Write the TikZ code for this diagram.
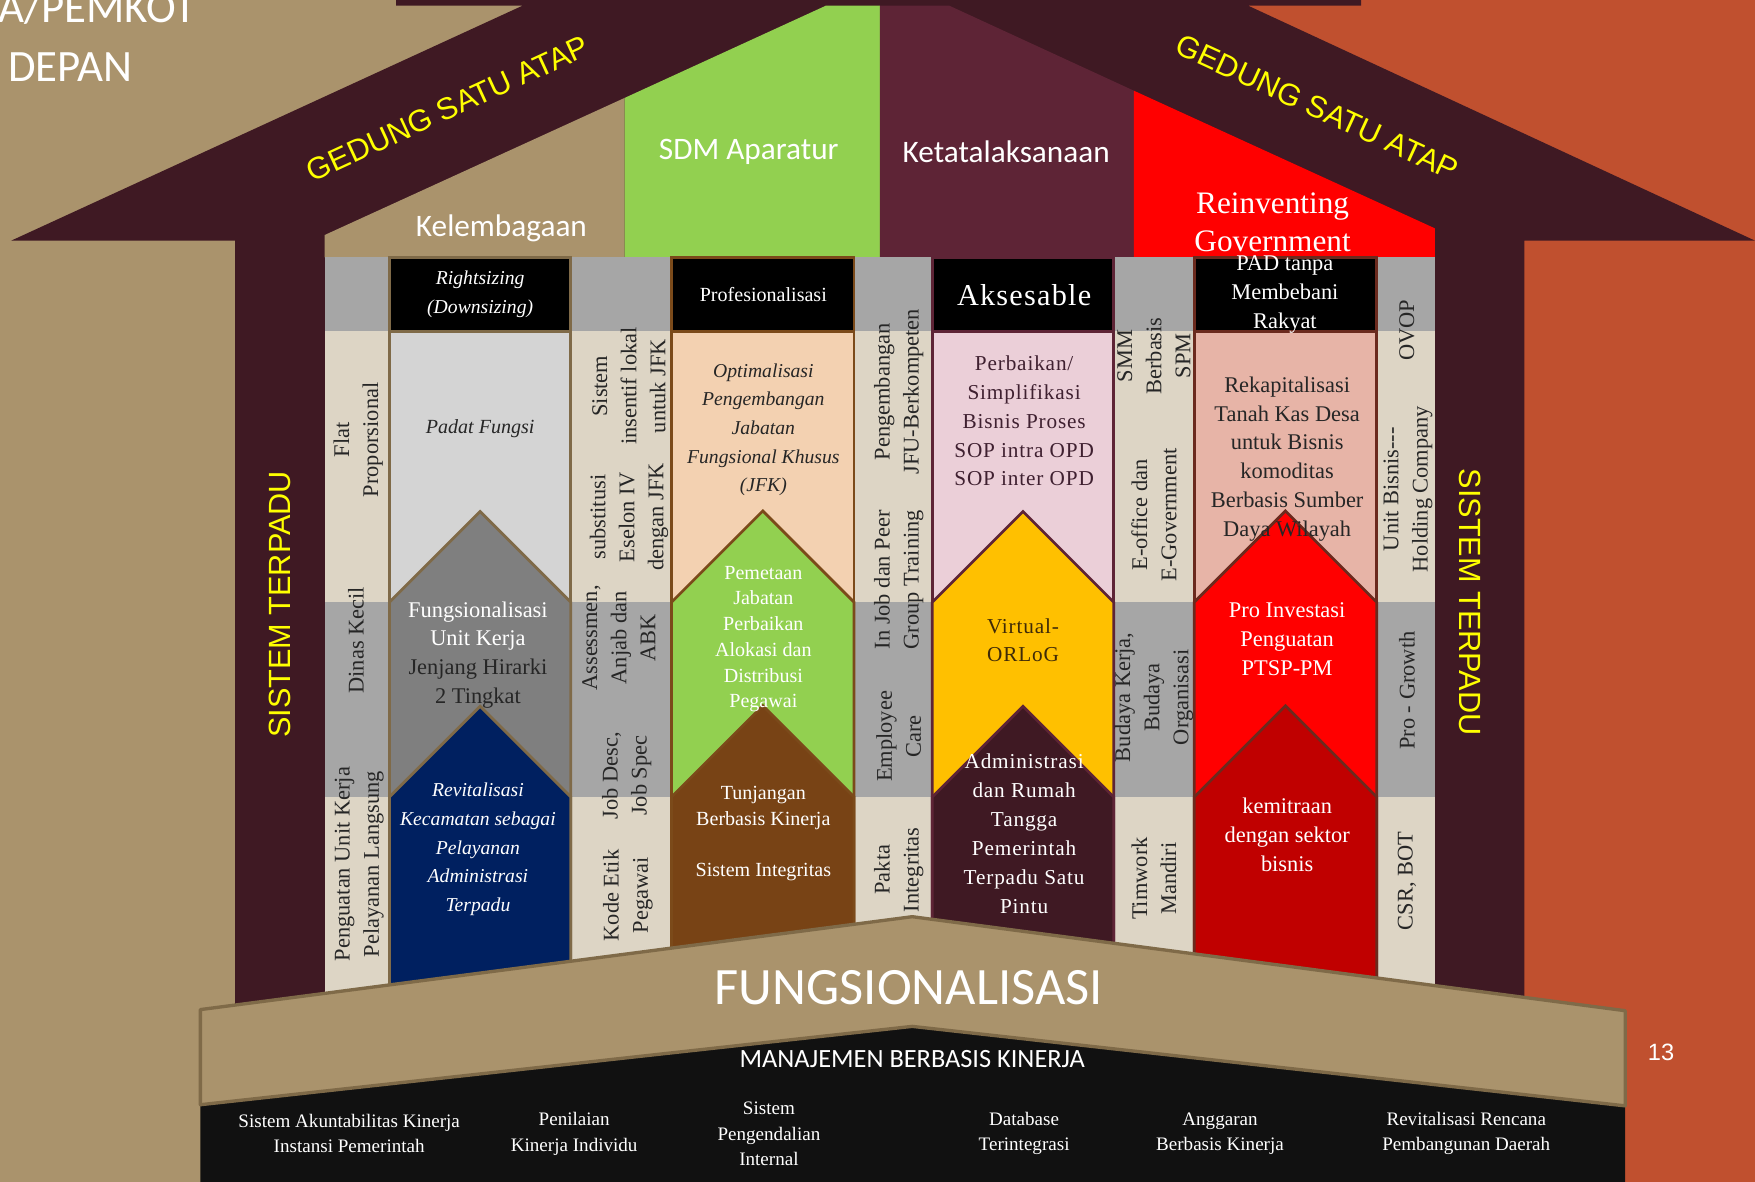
\documentclass[tikz,border=0pt]{standalone}
\usepackage{fontspec}
\setmainfont{Liberation Serif}
\newfontfamily\calibfont{Carlito}
\newfontfamily\arialfont{Liberation Sans}
\usetikzlibrary{calc}
\definecolor{bgtan}{HTML}{AA936C}
\definecolor{bgorange}{HTML}{C0502F}
\definecolor{roofdark}{HTML}{3F1923}
\definecolor{ketmaroon}{HTML}{5E2436}
\definecolor{sdmgreen}{HTML}{92D050}
\definecolor{colbeige}{HTML}{DDD5C5}
\definecolor{colgray}{HTML}{A6A6A6}
\definecolor{banlgray}{HTML}{D4D4D4}
\definecolor{banmgray}{HTML}{7F7F7F}
\definecolor{bannavy}{HTML}{002060}
\definecolor{banpeach}{HTML}{F3D1B1}
\definecolor{banbrown}{HTML}{784315}
\definecolor{banpink}{HTML}{EBCFD8}
\definecolor{bangold}{HTML}{FFC000}
\definecolor{bansalmon}{HTML}{E7B4A7}
\definecolor{banred}{HTML}{FF0000}
\definecolor{bandred}{HTML}{C00000}
\definecolor{bdtan}{HTML}{7F6A48}
\definecolor{bdbrown}{HTML}{7B4A1A}
\definecolor{bdred}{HTML}{6B2A1E}
\definecolor{txtdark}{HTML}{262626}
\definecolor{txtmaroon}{HTML}{3F2030}
\definecolor{txtgold}{HTML}{3F2A08}
\definecolor{basedark}{HTML}{111111}
\definecolor{gedyellow}{HTML}{FFFF00}

\begin{document}
\begin{tikzpicture}[x=0.02cm, y=-0.02cm,
  every node/.style={inner sep=0pt},
  banline/.style={line width=1.4pt, line join=miter},
  coltext/.style={rotate=90, align=center, text=txtdark, font=\fontsize{11.4}{14.8}\selectfont},
  bantext/.style={align=center, font=\fontsize{11.4}{14.6}\selectfont},
  banital/.style={align=center, font=\fontsize{10}{14.6}\selectfont\itshape},
  bthree/.style={align=center, font=\fontsize{10.8}{14.7}\selectfont\addfontfeature{LetterSpace=4}},
  roofsans/.style={text=white, font=\calibfont\fontsize{15.9}{19}\selectfont},
  gedung/.style={text=gedyellow, font=\arialfont\fontsize{15.6}{19}\selectfont},
  basetext/.style={align=center, text=white, font=\fontsize{9.7}{12.8}\selectfont}]

\useasboundingbox (0,0) rectangle (1568,1056);
\clip (0,0) rectangle (1568,1056);

\fill[bgtan] (0,0) rectangle (791,1056);
\fill[bgorange] (791,0) rectangle (1568,1056);

\fill[roofdark] (10,215) -- (467,5) -- (354,5) -- (354,0) -- (1216,0) -- (1216,5) -- (1115,5)
  -- (1568,215) -- (1362,215) -- (1362,900) -- (210,900) -- (210,215) -- cycle;

\fill[bgtan] (290,230) -- (290,210) -- (558,87.5) -- (558,230) -- cycle;
\fill[sdmgreen] (558,230) -- (558,87.5) -- (738,5) -- (786,5) -- (786,230) -- cycle;
\fill[ketmaroon] (786,230) -- (786,5) -- (848,5) -- (1013,81) -- (1013,230) -- cycle;
\fill[banred] (1013,230) -- (1013,81) -- (1282,204) -- (1282,230) -- cycle;

\fill[colbeige] (290,230) rectangle (1282,900);
\fill[colgray] (290,230) rectangle (1282,296);
\fill[colgray] (290,538) rectangle (1282,712);

\foreach \xa/\xb/\bd/\ca/\cb/\cc in {
  348/510/bdtan/banlgray/banmgray/bannavy,
  600/763/bdbrown/banpeach/sdmgreen/banbrown,
  833/995/ketmaroon/banpink/bangold/roofdark,
  1067/1230/bdred/bansalmon/banred/bandred}{
  \pgfmathsetmacro\mx{(\xa+\xb)/2}
  \pgfmathsetmacro\hw{(\xb-\xa)/2}
  \filldraw[fill=\ca, draw=\bd, banline] (\xa,296) rectangle (\xb,900);
  \filldraw[fill=\cb, draw=\bd, banline] (\xa,900) -- (\xa,538) -- (\mx,{538-\hw}) -- (\xb,538) -- (\xb,900);
  \filldraw[fill=\cc, draw=\bd, banline] (\xa,900) -- (\xa,712) -- (\mx,{712-\hw}) -- (\xb,712) -- (\xb,900);
  \filldraw[fill=black, draw=\bd, banline] (\xa,230) rectangle (\xb,296);
}

\node[roofsans, font=\calibfont\fontsize{22.8}{28.5}\selectfont, anchor=base west] (pemkot) at (-2,20) {A/PEMKOT};
\node[roofsans, font=\calibfont\fontsize{22.8}{28.5}\selectfont, anchor=base west] (depan) at (7,73) {DEPAN};

\node[gedung, rotate=24.7] (gedkiri) at (400,97) {GEDUNG SATU ATAP};
\node[gedung, rotate=-24.7] (gedkanan) at (1177,96) {GEDUNG SATU ATAP};
\node[gedung, rotate=90] (sistkiri) at (250,540) {SISTEM TERPADU};
\node[gedung, rotate=-90] (sistkanan) at (1313,538) {SISTEM TERPADU};

\node[roofsans] (kelembagaan) at (448,204) {Kelembagaan};
\node[roofsans] (sdm) at (669,136) {SDM Aparatur};
\node[roofsans] (ketata) at (899,136) {Ketatalaksanaan};
\node[align=center, text=white, font=\fontsize{15.9}{19.3}\selectfont] (reinvent) at (1137,199) {Reinventing\\Government};

\node[coltext] (flat) at (320,393) {Flat\\Proporsional};
\node[coltext] (dinas) at (318,572) {Dinas Kecil};
\node[coltext] (penguatan) at (321,772) {Penguatan Unit Kerja\\Pelayanan Langsung};
\node[coltext] (insentif) at (562,345) {Sistem\\insentif lokal\\untuk JFK};
\node[coltext] (substitusi) at (562,462) {substitusi\\Eselon IV\\dengan JFK};
\node[coltext] (assessmen) at (553,570) {Assessmen,\\Anjab dan\\ABK};
\node[coltext] (jobdesc) at (560,693) {Job Desc,\\Job Spec};
\node[coltext] (kodeetik) at (561,800) {Kode Etik\\Pegawai};
\node[coltext] (jfu) at (803,350) {Pengembangan\\JFU-Berkompeten};
\node[coltext] (injob) at (803,518) {In Job dan Peer\\Group Training};
\node[coltext] (employee) at (803,658) {Employee\\Care};
\node[coltext] (pakta) at (803,777) {Pakta\\Integritas};
\node[coltext] (smm) at (1031,318) {SMM\\Berbasis\\SPM};
\node[coltext] (eoffice) at (1031,460) {E-office dan\\E-Government};
\node[coltext] (budaya) at (1031,623) {Budaya Kerja,\\Budaya\\Organisasi};
\node[coltext] (timwork) at (1031,785) {Timwork\\Mandiri};
\node[coltext] (ovop) at (1257,295) {OVOP};
\node[coltext] (unitbisnis) at (1258,437) {Unit Bisnis-{}-{}-\\Holding Company};
\node[coltext] (progrowth) at (1257,617) {Pro - Growth};
\node[coltext] (csr) at (1257,787) {CSR, BOT};

\node[banital, text=white] (rightsizing) at (429,263) {Rightsizing\\(Downsizing)};
\node[banital, text=txtdark, font=\fontsize{10.2}{14.6}\selectfont\itshape] (padat) at (429,383) {Padat Fungsi};
\node[bantext, text=txtdark] (fungsional) at (427,585) {\textcolor{white}{Fungsionalisasi}\\\textcolor{white}{Unit Kerja}\\Jenjang Hirarki\\2 Tingkat};
\node[banital, text=white] (revital) at (427,759) {Revitalisasi\\Kecamatan sebagai\\Pelayanan\\Administrasi\\Terpadu};

\node[bantext, text=white, font=\fontsize{10.2}{13}\selectfont] (profesional) at (682,263) {Profesionalisasi};
\node[banital, text=txtdark] (optimal) at (682,384) {Optimalisasi\\Pengembangan\\Jabatan\\Fungsional Khusus\\(JFK)};
\node[bantext, text=white, font=\fontsize{10.2}{13.1}\selectfont] (pemetaan) at (682,571) {Pemetaan\\Jabatan\\Perbaikan\\Alokasi dan\\Distribusi\\Pegawai};
\node[bantext, text=white, font=\fontsize{10.2}{13.1}\selectfont] (tunjangan) at (682,745) {Tunjangan\\Berbasis Kinerja\\[13pt]Sistem Integritas};

\node[bthree, text=white, font=\fontsize{15.4}{18}\selectfont\addfontfeature{LetterSpace=4}] (aksesable) at (915,264) {Aksesable};
\node[bthree, text=txtmaroon] (perbaikan) at (915,376) {Perbaikan/\\Simplifikasi\\Bisnis Proses\\SOP intra OPD\\SOP inter OPD};
\node[bthree, text=txtgold] (virtual) at (914,572) {Virtual-\\ORLoG};
\node[bthree, text=white] (admin) at (915,745) {Administrasi\\dan Rumah\\Tangga\\Pemerintah\\Terpadu Satu\\Pintu};

\node[bantext, text=white] (pad) at (1148,263) {PAD tanpa\\Membebani\\Rakyat};
\node[bantext, text=txtdark] (rekap) at (1150,410) {Rekapitalisasi\\Tanah Kas Desa\\untuk Bisnis\\komoditas\\Berbasis Sumber\\Daya Wilayah};
\node[bantext, text=white] (proinvest) at (1150,571) {Pro Investasi\\Penguatan\\PTSP-PM};
\node[bantext, text=white] (kemitraan) at (1150,746) {kemitraan\\dengan sektor\\bisnis};

\fill[basedark] (179,987) -- (815,917) -- (1452,987) -- (1452,1060) -- (179,1060) -- cycle;
\filldraw[fill=bgtan, draw=bdtan, line width=1.7pt, line join=round] (179,902) -- (815,819) -- (1452,903)
  -- (1452,988) -- (815,917) -- (179,987) -- cycle;

\node[roofsans, font=\calibfont\fontsize{26.7}{30}\selectfont] (fungsi) at (812,882) {FUNGSIONALISASI};
\node[roofsans, font=\calibfont\fontsize{13.4}{16}\selectfont] (manajemen) at (815,946) {MANAJEMEN BERBASIS KINERJA};
\node[text=white, font=\arialfont\fontsize{12}{14}\selectfont] (halaman) at (1484,940) {13};

\node[basetext] (sakip) at (312,1013) {Sistem Akuntabilitas Kinerja\\Instansi Pemerintah};
\node[basetext] (penilaian) at (513,1013) {Penilaian\\Kinerja Individu};
\node[basetext] (spi) at (687,1013) {Sistem\\Pengendalian\\Internal};
\node[basetext] (database) at (915,1013) {Database\\Terintegrasi};
\node[basetext] (anggaran) at (1090,1013) {Anggaran\\Berbasis Kinerja};
\node[basetext] (rencana) at (1310,1013) {Revitalisasi Rencana\\Pembangunan Daerah};
\end{tikzpicture}
\end{document}
